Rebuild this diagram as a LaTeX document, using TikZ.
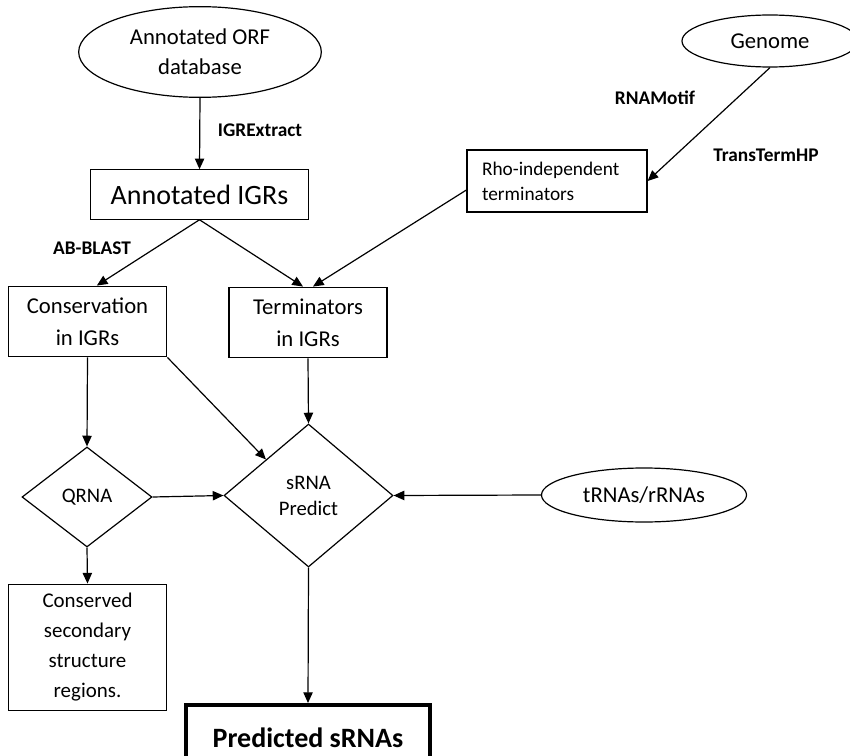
\documentclass[tikz,border=0pt]{standalone}
\usepackage{fontspec}
\setmainfont{Carlito}
\usetikzlibrary{shapes.geometric,arrows.meta}

\tikzset{
  flow/.style={line width=0.9pt, -{Triangle[length=8pt,width=7pt]}},
  box/.style={draw, line width=0.9pt, inner sep=0pt, align=center,
    font=\fontsize{17}{24}\selectfont},
  oval/.style={draw, ellipse, line width=0.9pt, inner sep=0pt, align=center,
    font=\fontsize{17}{22.5}\selectfont},
  decide/.style={draw, diamond, line width=0.9pt, inner sep=0pt, align=center,
    font=\fontsize{15.5}{19.5}\selectfont},
  tool/.style={font=\bfseries\fontsize{14.5}{17}\selectfont}
}

\begin{document}
\begin{tikzpicture}[x=0.75pt, y=-0.75pt]
    \useasboundingbox (0,0) rectangle (850,756);
    % Sources
    \node [oval, minimum width=182pt, minimum height=68pt] (orf) at (200,52) {Annotated ORF\\database};
    \node [oval, minimum width=132pt, minimum height=39pt] (genome) at (770,41) {Genome};
    \node [oval, minimum width=153.75pt, minimum height=40.5pt] (trna) at (644,495) {tRNAs/rRNAs};
    % Intermediate results
    \node [box, minimum width=164pt, minimum height=37pt, font=\fontsize{21}{25}\selectfont] (igrs) at (199.5,194.5) {Annotated IGRs};
    \node [box, minimum width=135pt, minimum height=46.5pt, text width=112.5pt, align=left,
        font=\fontsize{14.5}{18.75}\selectfont] (rho) at (557,181) {Rho-independent\\terminators};
    \node [box, minimum width=119pt, minimum height=53pt] (cons) at (87.5,321.5) {Conservation\\in IGRs};
    \node [box, minimum width=118.5pt, minimum height=53pt] (term) at (308,322.5) {Terminators\\in IGRs};
    % Decisions
    \node [decide, minimum width=97.5pt, minimum height=75pt] (qrna) at (87,497) {QRNA};
    \node [decide, minimum width=126.75pt, minimum height=107.25pt] (srna) at (308.5,495.5) {sRNA\\Predict};
    % Outputs
    \node [box, minimum width=119pt, minimum height=95pt, font=\fontsize{15.7}{22.5}\selectfont] (consd) at (87.5,647.5) {Conserved\\secondary\\structure\\regions.};
    \node [box, line width=3pt, minimum width=183pt, minimum height=48.75pt,
        font=\bfseries\fontsize{21}{25}\selectfont] (pred) at (308,737.5) {Predicted sRNAs};
    % Tool labels
    \node [tool] (igrx) at (260,130) {IGRExtract};
    \node [tool] (rnamotif) at (655,98) {RNAMotif};
    \node [tool] (tth) at (766,155) {TransTermHP};
    \node [tool] (abblast) at (92,248) {AB-BLAST};
    % Connectors
    \draw [flow] (orf.south) -- (igrs.north);
    \draw [flow] (igrs.south) -- ([xshift=7pt]cons.north);
    \draw [flow] (igrs.south) -- ([xshift=-3.75pt]term.north);
    \draw [flow] ([yshift=-6.75pt]rho.west) -- ([xshift=3.75pt]term.north);
    \draw [flow] (genome.south) -- (rho.east);
    \draw [flow] (cons.south) -- (qrna.north);
    \draw [flow] (cons.south east) -- (srna.north west);
    \draw [flow] (term.south) -- (srna.north);
    \draw [flow] (qrna.east) -- (srna.west);
    \draw [flow] (trna.west) -- (srna.east);
    \draw [flow] (qrna.south) -- (consd.north);
    \draw [flow] (srna.south) -- (pred.north);
\end{tikzpicture}
\end{document}
